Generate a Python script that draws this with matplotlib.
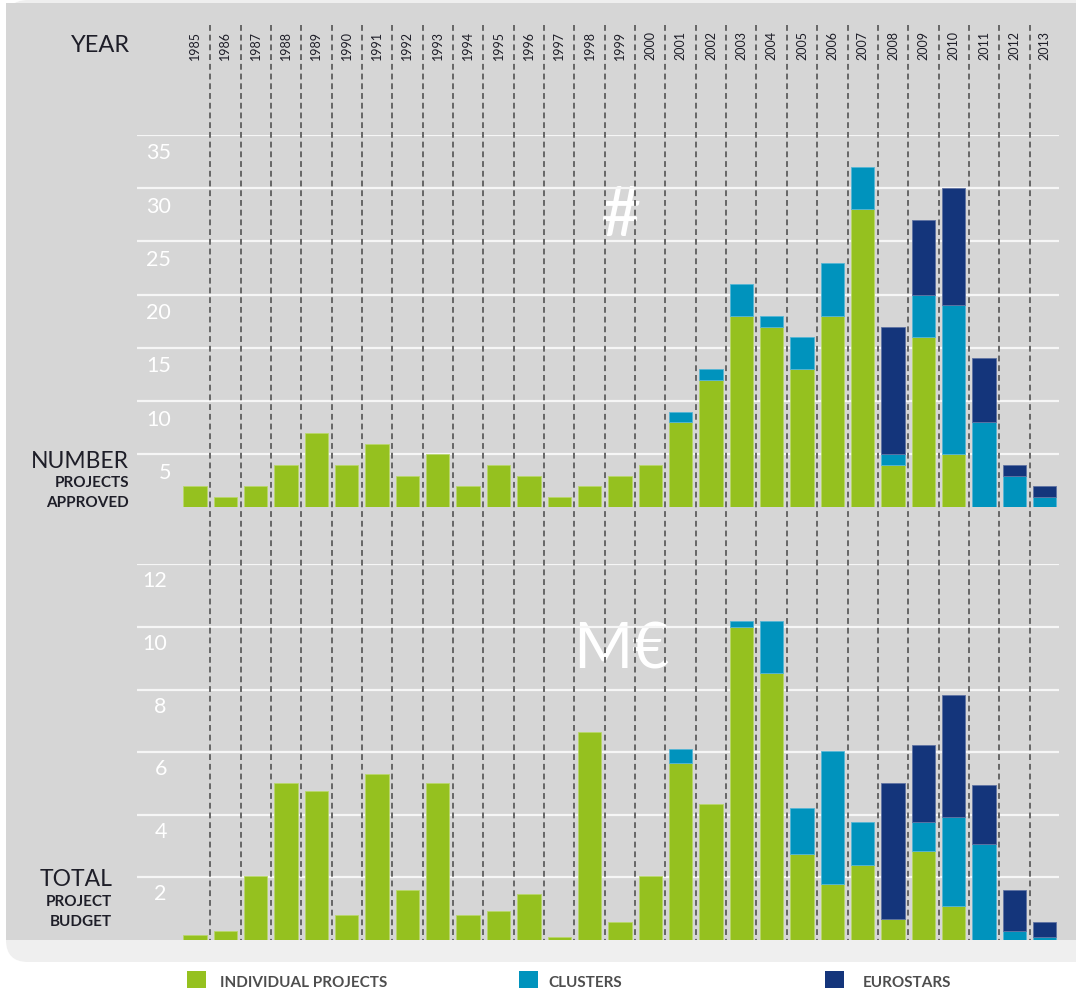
import matplotlib
matplotlib.use('Agg')
import matplotlib.pyplot as plt
import numpy as np
from matplotlib.patches import Rectangle, FancyBboxPatch
from matplotlib.transforms import blended_transform_factory

plt.rcParams['font.family'] = ['Lato', 'DejaVu Sans']

years = list(range(1985, 2014))

# number of projects approved
n_individual = [2, 1, 2, 4, 7, 4, 6, 3, 5, 2, 4, 3, 1, 2, 3, 4,
                8, 12, 18, 17, 13, 18, 28, 4, 16, 5, 0, 0, 0]
n_clusters = [0] * 16 + [1, 1, 3, 1, 3, 5, 4, 1, 4, 14, 8, 3, 1]
n_eurostars = [0] * 23 + [12, 7, 11, 6, 1, 1]

# total project budget (M€)
b_individual = [0.16, 0.29, 2.05, 5.03, 4.75, 0.8, 5.31, 1.6, 5.03, 0.8, 0.92, 1.48, 0.1, 6.64, 0.57, 2.05,
                5.65, 4.34, 10.0, 8.52, 2.74, 1.78, 2.4, 0.68, 2.85, 1.08, 0, 0, 0]
b_clusters = [0] * 16 + [0.46, 0, 0.18, 1.66, 1.49, 4.27, 1.37, 0, 0.92, 2.86, 3.08, 0.29, 0.1]
b_eurostars = [0] * 23 + [4.35, 2.45, 3.89, 1.88, 1.31, 0.47]

top_ticks = [5, 10, 15, 20, 25, 30, 35]
bottom_ticks = [2, 4, 6, 8, 10, 12]

GREEN, CYAN, NAVY = '#95c11f', '#0093bd', '#14357b'
EDGES = {GREEN: '#b9d86a', CYAN: '#55b6d6', NAVY: '#5f72a3'}
PANEL = '#d6d6d6'
TXT = '#1e1e28'

W, H = 1076, 988
fig = plt.figure(figsize=(W / 100, H / 100), dpi=100)
fig.patch.set_facecolor('white')

# pixel axes for background, labels and legend
pix = fig.add_axes([0, 0, 1, 1])
pix.set_xlim(0, W)
pix.set_ylim(H, 0)
pix.axis('off')

pix.add_patch(FancyBboxPatch((6, 0), 1120, 962, boxstyle='round,pad=0,rounding_size=22',
                             fc='#efefef', ec='none', zorder=0))
pix.add_patch(Rectangle((6, 3), 1080, 937, fc=PANEL, ec='none', zorder=0.5))


def rect(left, right, top, bottom):
    return [left / W, 1 - bottom / H, (right - left) / W, (bottom - top) / H]


x = np.arange(len(years))
x0, step = 195, 30.35
xlim = ((137 - x0) / step, (1059 - x0) / step)

ax1 = fig.add_axes(rect(137, 1059, 135, 507.5))
ax2 = fig.add_axes(rect(137, 1059, 564.4, 940))


def stacked(ax, series, ticks, ymax, lab_dx, lab_dy):
    ax.set_xlim(*xlim)
    ax.set_ylim(0, ymax)
    ax.axis('off')
    for v in ticks:
        ax.axhline(v, color='#f6f6f6', lw=1.6, zorder=1)
        ax.annotate(str(v), xy=(0, v), xycoords=('axes fraction', 'data'),
                    xytext=(lab_dx, -lab_dy), textcoords='offset points',
                    ha='right', va='center', color='white', fontsize=15.5)
    bottom = np.zeros(len(x))
    for vals, col in series:
        vals = np.array(vals, dtype=float)
        m = vals > 0
        ax.bar(x[m], vals[m], bottom=bottom[m], width=0.77, color=col,
               edgecolor=EDGES[col], lw=0.6, zorder=2)
        bottom += vals


stacked(ax1, [(n_individual, GREEN), (n_clusters, CYAN), (n_eurostars, NAVY)],
        top_ticks, 35, 24.5, 13.3)
stacked(ax2, [(b_individual, GREEN), (b_clusters, CYAN), (b_eurostars, NAVY)],
        bottom_ticks, 12, 21.5, 12.2)

# dashed year separators and year labels
trans = blended_transform_factory(ax2.transData, pix.transData)
for i in x[:-1]:
    ax2.plot([i + 0.5, i + 0.5], [25, 940], transform=trans, color='#666666',
             lw=1.4, ls=(0, (3, 2)), zorder=1.5, clip_on=False)
for i, y in zip(x, years):
    pix.text(i, 45, str(y), transform=blended_transform_factory(ax1.transData, pix.transData),
             rotation=90, ha='center', va='center', fontsize=9, color=TXT)

# side labels
pix.text(130, 46, 'YEAR', ha='right', va='center', fontsize=17, color=TXT)
pix.text(129, 461, 'NUMBER', ha='right', va='center', fontsize=16.5, color=TXT)
pix.text(129, 483, 'PROJECTS', ha='right', va='center', fontsize=11, fontweight='bold', color=TXT)
pix.text(129, 503, 'APPROVED', ha='right', va='center', fontsize=11, fontweight='bold', color=TXT)
pix.text(113, 879, 'TOTAL', ha='right', va='center', fontsize=16.5, color=TXT)
pix.text(112, 902, 'PROJECT', ha='right', va='center', fontsize=11, fontweight='bold', color=TXT)
pix.text(112, 922, 'BUDGET', ha='right', va='center', fontsize=11, fontweight='bold', color=TXT)

# big symbols
pix.text(620, 216, '#', ha='center', va='center', fontsize=50, fontweight='normal', color='white')
pix.text(621, 650, 'M€', ha='center', va='center', fontsize=46, fontweight='normal', color='white')

# legend
legend = [('INDIVIDUAL PROJECTS', GREEN, 187, 220), ('CLUSTERS', CYAN, 519, 548),
          ('EUROSTARS', NAVY, 825, 863)]
for label, col, sx, tx in legend:
    pix.add_patch(Rectangle((sx, 971), 19, 20, fc=col, ec='none'))
    pix.text(tx, 983, label, ha='left', va='center', fontsize=11, fontweight='bold', color='#4d4d4d')

fig.savefig('out.png', dpi=100, facecolor='white')
